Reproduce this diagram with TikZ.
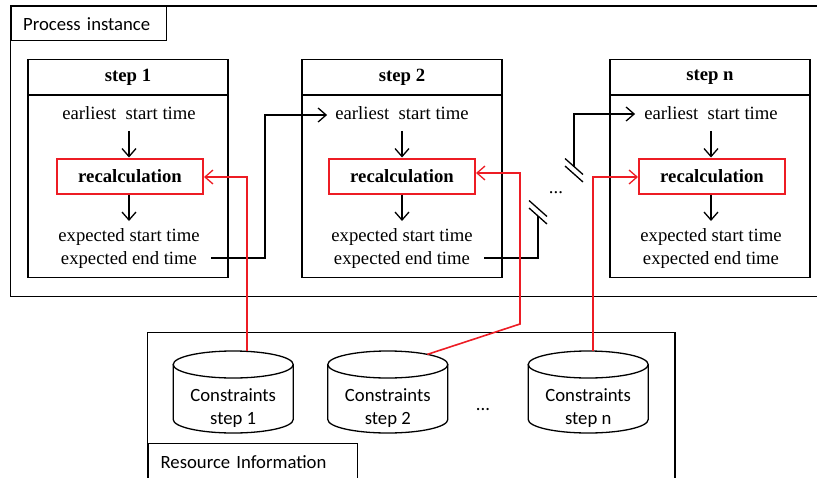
\documentclass[tikz,border=0pt]{standalone}
\usepackage{fontspec}
\setmainfont{Liberation Serif}
\newfontfamily\sansfont{Carlito}
\usetikzlibrary{arrows.meta,calc}
\definecolor{linkred}{RGB}{237,28,36}

\tikzset{
  frame/.style={draw=black, line width=1.3pt},
  txt/.style={font=\fontsize{18.7}{23}\selectfont, inner sep=0pt, align=center},
  sans/.style={font=\sansfont\fontsize{18.7}{23}\selectfont, inner sep=0pt, align=center},
  hdr/.style={frame, font=\fontsize{18.7}{23}\selectfont\bfseries, inner sep=0pt,
    minimum width=200pt, minimum height=35.7pt, anchor=north},
  stepbox/.style={frame, minimum width=200pt, minimum height=218.4pt, inner sep=0pt},
  recalc/.style={draw=linkred, line width=2pt, minimum width=146pt, minimum height=35pt,
    inner sep=0pt, font=\fontsize{18.7}{23}\selectfont\bfseries},
  tip/.style={-{Straight Barb[length=8pt,width=14pt,line width=1.3pt]}},
  flow/.style={line width=1.4pt, tip},
  redflow/.style={draw=linkred, line width=1.6pt, tip},
  brk/.style={line width=1.3pt},
  tab/.style={frame, font=\sansfont\fontsize{18.7}{23}\selectfont, align=left,
    inner ysep=0pt, anchor=north west},
}

% cylinder outline around a text node (#1), drawn from its centre
\newcommand\drawcyl[1]{%
  \draw[frame] ($(#1.center)+(-60,-44)$) -- ($(#1.center)+(-60,11)$)
    arc[start angle=180, end angle=360, x radius=60pt, y radius=13.5pt]
    -- ($(#1.center)+(60,-44)$);
  \draw[frame] ($(#1.center)+(0,-44)$) ellipse[x radius=60pt, y radius=13.5pt];
}

\begin{document}
\begin{tikzpicture}[x=1pt, y=-1pt]
\useasboundingbox (0,0) rectangle (817,477);
\clip (0,0) rectangle (817,477);

% process instance frame
\draw[frame] (10.5,6) rectangle (830,296.7);
\node[tab, text width=131pt, inner xsep=12pt, minimum height=34pt] (plabel) at (10.5,6) {Process instance};

% steps
\foreach \L/\cx/\rx/\id/\name in {28/129/130/1/step 1, 302/402/402/2/step 2, 610/711/712/n/step n}{
  \node[stepbox] (s\id) at (\L+100,168.5) {};
  \node[hdr] (h\id) at (s\id.north) {\name};
  \node[txt] (e\id) at (\cx,113) {earliest~ start time};
  \node[recalc] (r\id) at (\rx,176) {recalculation};
  \node[txt, anchor=north, inner ysep=7pt] (x\id) at (\cx,221) {expected start time\\expected end time};
  \draw[flow] ([yshift=-11pt]e\id.south) -- (e\id.south |- r\id.north);
  \draw[flow] (x\id.north |- r\id.south) -- (x\id.north);
}

\node[txt] (dotsA) at (556,193) {...};

% step 1 -> step 2
\coordinate (o1) at (211,258);
\coordinate (j1) at (265,258);
\draw[flow] (o1) -- (j1) |- ([xshift=-8pt,yshift=-2pt]e2.west);

% step 2 -> ... -> step n, with line breaks
\coordinate (o2) at (484,258);
\coordinate (j2) at (538,258);
\coordinate (bA) at (538,208.5);
\coordinate (bB) at (538,216);
\draw[line width=1.4pt] (o2) -- (j2) -- (bB);
\draw[brk] ($(bA)+(-9,-8)$) -- ($(bA)+(9,8)$);
\draw[brk] ($(bB)+(-9,-8)$) -- ($(bB)+(9,8)$);

\coordinate (bC) at (574,166.5);
\coordinate (bD) at (574,174);
\draw[brk] ($(bC)+(-9,-8)$) -- ($(bC)+(9,8)$);
\draw[brk] ($(bD)+(-9,-8)$) -- ($(bD)+(9,8)$);
\draw[flow] (bC) |- ([xshift=-9pt,yshift=-1pt]en.west);

% resource information frame
\draw[frame] (147.3,332.7) rectangle (675,500);
\node[tab, text width=184pt, inner xsep=12.7pt, minimum height=37pt] (rlabel) at (147.3,442.7) {Resource Information};

% constraint stores
\node[sans] (c1) at (233.2,408.5) {Constraints\\step 1};
\node[sans] (c2) at (387.8,408.5) {Constraints\\step 2};
\node[sans] (cn) at (588.2,408.5) {Constraints\\step n};
\drawcyl{c1}
\drawcyl{c2}
\drawcyl{cn}
\node[sans] (dotsB) at (483,410) {...};

% constraint feeds into recalculation
\coordinate (k1) at (247,351.4);
\coordinate (k2) at (427.3,354.4);
\coordinate (m2) at (520,324);
\coordinate (k3) at (593,351);
\draw[redflow] (k1) |- ([yshift=-1pt]r1.east);
\draw[redflow] (k2) -- (m2) |- ([yshift=3pt]r2.east);
\draw[redflow] (k3) |- ([yshift=-1pt]rn.west);
\end{tikzpicture}
\end{document}
